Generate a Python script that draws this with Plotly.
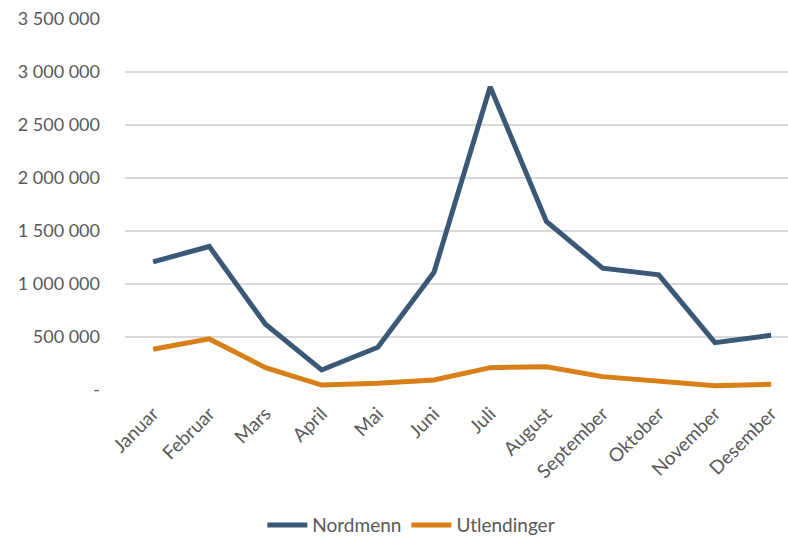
import plotly.graph_objects as go

months = ["Januar", "Februar", "Mars", "April", "Mai", "Juni", "Juli",
          "August", "September", "Oktober", "November", "Desember"]
nordmenn = [1209000, 1354000, 620000, 189000, 403000, 1111000, 2860000,
            1590000, 1149000, 1086000, 447000, 516000]
utlendinger = [384000, 482000, 211000, 47000, 63000, 94000, 211000,
               220000, 126000, 85000, 41000, 54000]
ytick_vals = [0, 500000, 1000000, 1500000, 2000000, 2500000, 3000000, 3500000]
ytick_text = ["-", "500 000", "1 000 000", "1 500 000", "2 000 000",
              "2 500 000", "3 000 000", "3 500 000"]

FONT = "Lato"
GREY = "#595959"

fig = go.Figure()
fig.add_trace(go.Scatter(x=list(range(len(months))), y=nordmenn, name="Nordmenn",
                         mode="lines", line=dict(color="#3b5877", width=5)))
fig.add_trace(go.Scatter(x=list(range(len(months))), y=utlendinger, name="Utlendinger",
                         mode="lines", line=dict(color="#d97f17", width=5)))

fig.update_layout(
    width=788, height=538,
    margin=dict(l=125, r=0, t=19, b=148),
    paper_bgcolor="white", plot_bgcolor="white",
    font=dict(family=FONT, color=GREY, size=16),
    showlegend=True,
    legend=dict(orientation="h", xref="container", yref="container",
                x=0.522, y=0.024, xanchor="center", yanchor="middle",
                font=dict(size=19, color=GREY), itemwidth=40),
    xaxis=dict(range=[-0.5, 11.3], tickmode="array",
               tickvals=list(range(len(months))), ticktext=months,
               tickangle=-45, showgrid=False, zeroline=False, showline=False,
               ticks="", ticklabelstandoff=8, tickfont=dict(size=19, color=GREY)),
    yaxis=dict(range=[0, 3500000], tickmode="array", tickvals=ytick_vals,
               ticktext=ytick_text, showgrid=True, gridcolor="#d9d9d9",
               gridwidth=1.5, zeroline=False, showline=False, ticks="",
               ticklabelstandoff=24, tickfont=dict(size=18, color=GREY)),
)

fig.write_html("out.html", config={"displayModeBar": False},
               post_script="document.body.style.margin='0';")
